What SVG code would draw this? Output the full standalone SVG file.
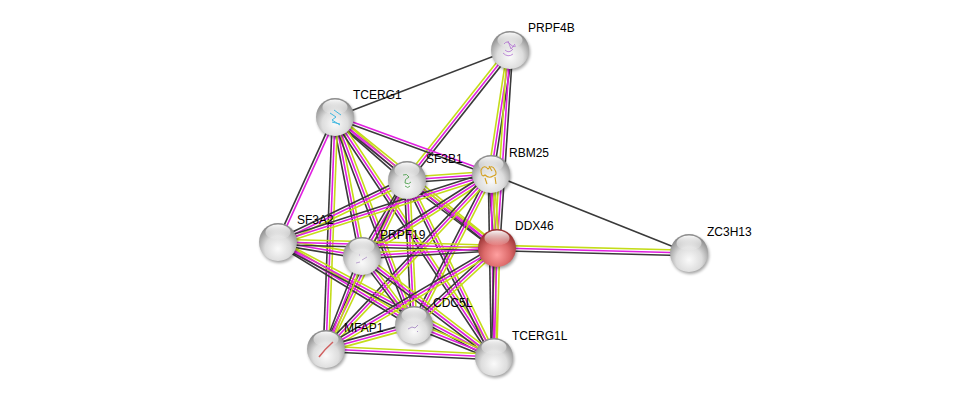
<svg xmlns="http://www.w3.org/2000/svg" xmlns:xlink="http://www.w3.org/1999/xlink" width="975" height="403" viewBox="0 0 975 403">
<style>
.ty{stroke:#c4dc1a;stroke-width:1.6;fill:none}
.tm{stroke:#e020e0;stroke-width:1.6;fill:none}
.tk{stroke:#3a3a3a;stroke-width:1.6;fill:none}
.lbl{font-family:"Liberation Sans",Arial,sans-serif;font-size:12px;fill:#000}
</style>
<defs>
<g id="e3"><line x1="0" y1="-2.7" x2="1" y2="-2.7" class="ty"/><line x1="0" y1="0" x2="1" y2="0" class="tm"/><line x1="0" y1="2.7" x2="1" y2="2.7" class="tk"/></g>
<g id="e2"><line x1="0" y1="-1.35" x2="1" y2="-1.35" class="tm"/><line x1="0" y1="1.35" x2="1" y2="1.35" class="tk"/></g>
<g id="e1"><line x1="0" y1="0" x2="1" y2="0" class="tk"/></g>
<radialGradient id="gGray" cx="50%" cy="68%" r="62%">
<stop offset="0%" stop-color="#fafafa"/><stop offset="55%" stop-color="#dddddd"/><stop offset="100%" stop-color="#8e8e8e"/>
</radialGradient>
<radialGradient id="gRed" cx="50%" cy="68%" r="62%">
<stop offset="0%" stop-color="#ffa0a0"/><stop offset="55%" stop-color="#dc6a6a"/><stop offset="100%" stop-color="#983434"/>
</radialGradient>
<linearGradient id="gHi" x1="0" y1="0" x2="0" y2="1">
<stop offset="0%" stop-color="#fff" stop-opacity="0.95"/><stop offset="100%" stop-color="#fff" stop-opacity="0.05"/>
</linearGradient>
<filter id="sh" x="-50%" y="-50%" width="200%" height="200%"><feGaussianBlur stdDeviation="1.6"/></filter>
<g id="ball"><circle cx="1.2" cy="2" r="19" fill="#000" opacity="0.35" filter="url(#sh)"/><circle r="19" fill="url(#gGray)"/><ellipse cx="0" cy="-10" rx="12.5" ry="7.5" fill="url(#gHi)"/></g>
<g id="ballRed"><circle cx="1.2" cy="2" r="19" fill="#000" opacity="0.35" filter="url(#sh)"/><circle r="19" fill="url(#gRed)"/><ellipse cx="0" cy="-10" rx="12.5" ry="7.5" fill="url(#gHi)"/></g>
</defs>
<g id="connectors">
<use xlink:href="#e1" transform="matrix(175,-67,0.358,0.934,335,117)"/>
<use xlink:href="#e3" transform="matrix(103,-130,0.784,0.621,407,180)"/>
<use xlink:href="#e3" transform="matrix(19,-124,0.989,0.152,491,174)"/>
<use xlink:href="#e3" transform="matrix(13,-198,0.998,0.066,497,248)"/>
<use xlink:href="#e1" transform="matrix(198,79,-0.371,0.929,491,174)"/>
<use xlink:href="#e3" transform="matrix(192,5,-0.026,1,497,248)"/>
<use xlink:href="#e3" transform="matrix(72,63,-0.659,0.753,335,117)"/>
<use xlink:href="#e2" transform="matrix(156,57,-0.343,0.939,335,117)"/>
<use xlink:href="#e2" transform="matrix(-57,125,-0.910,-0.415,335,117)"/>
<use xlink:href="#e3" transform="matrix(27,139,-0.982,0.191,335,117)"/>
<use xlink:href="#e3" transform="matrix(162,131,-0.629,0.778,335,117)"/>
<use xlink:href="#e3" transform="matrix(79,208,-0.935,0.355,335,117)"/>
<use xlink:href="#e3" transform="matrix(-9,232,-0.999,-0.039,335,117)"/>
<use xlink:href="#e3" transform="matrix(159,240,-0.834,0.552,335,117)"/>
<use xlink:href="#e3" transform="matrix(84,-6,0.071,0.998,407,180)"/>
<use xlink:href="#e3" transform="matrix(-129,62,-0.433,-0.901,407,180)"/>
<use xlink:href="#e3" transform="matrix(-45,76,-0.861,-0.510,407,180)"/>
<use xlink:href="#e3" transform="matrix(90,68,-0.603,0.798,407,180)"/>
<use xlink:href="#e3" transform="matrix(7,145,-0.999,0.048,407,180)"/>
<use xlink:href="#e3" transform="matrix(-81,169,-0.902,-0.432,407,180)"/>
<use xlink:href="#e3" transform="matrix(87,177,-0.898,0.441,407,180)"/>
<use xlink:href="#e3" transform="matrix(-213,68,-0.304,-0.953,491,174)"/>
<use xlink:href="#e3" transform="matrix(-129,82,-0.536,-0.844,491,174)"/>
<use xlink:href="#e3" transform="matrix(6,74,-0.997,0.081,491,174)"/>
<use xlink:href="#e3" transform="matrix(-77,151,-0.891,-0.454,491,174)"/>
<use xlink:href="#e3" transform="matrix(-165,175,-0.728,-0.686,491,174)"/>
<use xlink:href="#e3" transform="matrix(3,183,-1,0.016,491,174)"/>
<use xlink:href="#e3" transform="matrix(84,14,-0.164,0.986,278,242)"/>
<use xlink:href="#e3" transform="matrix(219,6,-0.027,1,278,242)"/>
<use xlink:href="#e3" transform="matrix(136,83,-0.521,0.854,278,242)"/>
<use xlink:href="#e3" transform="matrix(216,115,-0.470,0.883,278,242)"/>
<use xlink:href="#e3" transform="matrix(135,-8,0.059,0.998,362,256)"/>
<use xlink:href="#e3" transform="matrix(52,69,-0.799,0.602,362,256)"/>
<use xlink:href="#e3" transform="matrix(-36,93,-0.933,-0.361,362,256)"/>
<use xlink:href="#e3" transform="matrix(132,101,-0.608,0.794,362,256)"/>
<use xlink:href="#e3" transform="matrix(-83,77,-0.680,-0.733,497,248)"/>
<use xlink:href="#e3" transform="matrix(-171,101,-0.509,-0.861,497,248)"/>
<use xlink:href="#e3" transform="matrix(-3,109,-1,-0.028,497,248)"/>
<use xlink:href="#e3" transform="matrix(-88,24,-0.263,-0.965,414,325)"/>
<use xlink:href="#e3" transform="matrix(80,32,-0.371,0.928,414,325)"/>
<use xlink:href="#e3" transform="matrix(168,8,-0.048,0.999,326,349)"/>
</g>
<g id="PRPF4B" transform="translate(510,50)"><use xlink:href="#ball"/><path d="M-6,-6 q3,-4 6,0 t6,2 M-5,0 q4,4 8,-1 M-2,-9 l3,8 l4,-5 M-7,3 q5,5 10,1" stroke="#b070d0" stroke-width="0.8" fill="none"/><text class="lbl" x="18" y="-18">PRPF4B</text></g>
<g id="TCERG1" transform="translate(335,117)"><use xlink:href="#ball"/><path d="M-5,-4 l6,4 l-4,3 l8,5 M-1,-7 l7,5 M-3,5 l8,2" stroke="#40b8e0" stroke-width="1" fill="none"/><text class="lbl" x="18" y="-18">TCERG1</text></g>
<g id="SF3B1" transform="translate(407,180)"><use xlink:href="#ball"/><path d="M-4,-5 q4,-2 6,2 q-5,2 -4,6 q4,2 6,-1 M-2,6 q3,3 5,0" stroke="#50a050" stroke-width="0.9" fill="none"/><text class="lbl" x="19" y="-17">SF3B1</text></g>
<g id="RBM25" transform="translate(491,174)"><use xlink:href="#ball"/><path d="M-10,-4 q3,-6 7,-1 q4,-5 7,1 q3,5 -2,6 q-4,3 -8,-1 q-4,3 -4,-5 M-6,4 l2,6 M4,3 l1,7 M-2,-8 l3,5" stroke="#d4a020" stroke-width="1.1" fill="none"/><text class="lbl" x="18" y="-17">RBM25</text></g>
<g id="SF3A2" transform="translate(278,242)"><use xlink:href="#ball"/><text class="lbl" x="19" y="-18">SF3A2</text></g>
<g id="PRPF19" transform="translate(362,256)"><use xlink:href="#ball"/><path d="M-6,7 l4,-1 M0,4 l5,-3 M-3,-1 l1,0" stroke="#b090c8" stroke-width="0.8" fill="none"/><text class="lbl" x="18" y="-17">PRPF19</text></g>
<g id="DDX46" transform="translate(497,248)"><use xlink:href="#ballRed"/><text class="lbl" x="18" y="-18">DDX46</text></g>
<g id="ZC3H13" transform="translate(689,253)"><use xlink:href="#ball"/><text class="lbl" x="18" y="-17">ZC3H13</text></g>
<g id="CDC5L" transform="translate(414,325)"><use xlink:href="#ball"/><path d="M-6,4 l4,-2 l3,1 l3,-3 M3,6 l1,1" stroke="#a080c0" stroke-width="0.8" fill="none"/><text class="lbl" x="19" y="-18">CDC5L</text></g>
<g id="MFAP1" transform="translate(326,349)"><use xlink:href="#ball"/><path d="M-7,8 q6,-8 14,-15" stroke="#d06060" stroke-width="1.5" fill="none"/><text class="lbl" x="18" y="-17">MFAP1</text></g>
<g id="TCERG1L" transform="translate(494,357)"><use xlink:href="#ball"/><text class="lbl" x="18" y="-17">TCERG1L</text></g>
</svg>
